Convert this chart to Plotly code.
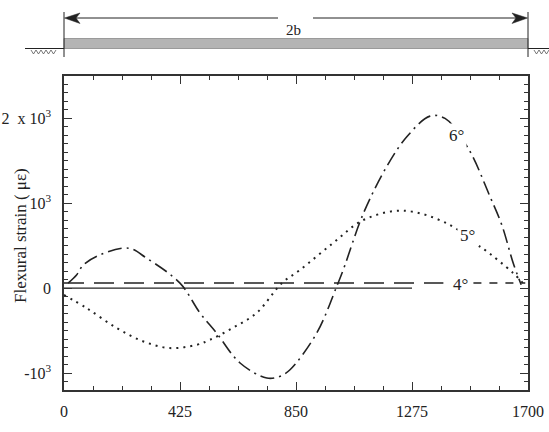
import plotly.graph_objects as go

# ---- data ----
x_solid = [0, 1275]
y_solid = [0, 0]

x_4a = [0, 1390]
y_4a = [60, 60]
x_4b = [1500, 1690]
y_4b = [60, 60]

x_5 = [0, 83, 193, 291, 388, 486, 535, 619, 706, 798, 865, 986, 1097, 1243, 1407, 1524, 1542, 1645, 1690]
y_5 = [-80, -235, -470, -628, -706, -667, -608, -467, -291, 59, 215, 532, 803, 913, 757, 489, 451, 180, 30]

x_6 = [15, 46, 71, 132, 236, 303, 425, 498, 559, 645, 743, 790, 828, 926, 999, 1023, 1097, 1182, 1256, 1341, 1396, 1481, 1561, 1604, 1646, 1675]
y_6 = [60, 156, 274, 392, 471, 353, 59, -291, -529, -882, -1059, -1040, -961, -529, 19, 215, 882, 1431, 1784, 2027, 2000, 1647, 1078, 745, 294, 40]

x_ticks = [0, 425, 850, 1275, 1700]
y_ticks = [-1000, 0, 1000, 2000]
y_ticktext = ["-10<sup>3</sup>", "0", "10<sup>3</sup>", "2  x 10<sup>3</sup>"]

labels = ["6°", "5°", "4°"]
label_x = [1437, 1478, 1451]
label_y = [1800, 615, 40]

FONT = "Liberation Serif"
INK = "#222222"

fig = go.Figure()
fig.add_trace(go.Scatter(x=x_solid, y=y_solid, mode="lines",
                         line=dict(color=INK, width=1.3), showlegend=False))
fig.add_trace(go.Scatter(x=x_4a, y=y_4a, mode="lines",
                         line=dict(color=INK, width=1.5, dash="20px,10px"), showlegend=False))
fig.add_trace(go.Scatter(x=x_4b, y=y_4b, mode="lines",
                         line=dict(color=INK, width=1.5, dash="8px,8px"), showlegend=False))
fig.add_trace(go.Scatter(x=x_5, y=y_5, mode="lines", line_shape="spline",
                         line=dict(color=INK, width=2, dash="2px,5px"), showlegend=False))
fig.add_trace(go.Scatter(x=x_6, y=y_6, mode="lines", line_shape="spline",
                         line=dict(color=INK, width=1.6, dash="14px,5px,2px,5px"), showlegend=False))

for t, xx, yy in zip(labels, label_x, label_y):
    fig.add_annotation(x=xx, y=yy, text=t, showarrow=False, bgcolor="white",
                       font=dict(family=FONT, size=17, color=INK), borderpad=2)

# ---- top diagram (pixel -> paper helpers) ----
L, R, T, B = 64, 528, 76, 390
def px(x):
    return (x - L) / (R - L)
def py(y):
    return (B - y) / (B - T)

shapes = []
shapes.append(dict(type="rect", xref="paper", yref="paper", x0=px(64), x1=px(528), y0=py(48.5), y1=py(38.5),
                   fillcolor="#b4b4b4", line=dict(color="#8a8a8a", width=0.8)))
for xv in (64, 528):
    shapes.append(dict(type="line", xref="paper", yref="paper", x0=px(xv), x1=px(xv), y0=py(12), y1=py(57),
                       line=dict(color=INK, width=1)))
shapes.append(dict(type="line", xref="paper", yref="paper", x0=px(25), x1=px(64), y0=py(48.5), y1=py(48.5),
                   line=dict(color=INK, width=1)))
shapes.append(dict(type="line", xref="paper", yref="paper", x0=px(528), x1=px(549), y0=py(48.5), y1=py(48.5),
                   line=dict(color=INK, width=1)))
def zig(x0, x1):
    pts = []
    x = x0
    up = True
    while x <= x1:
        pts.append((x, 50 if up else 54))
        up = not up
        x += 2.5
    return "M " + " L ".join(f"{px(a):.5f},{py(b):.5f}" for a, b in pts)
shapes.append(dict(type="path", xref="paper", yref="paper", path=zig(31, 57), line=dict(color="#555", width=0.8)))
shapes.append(dict(type="path", xref="paper", yref="paper", path=zig(534, 549), line=dict(color="#555", width=0.8)))
shapes.append(dict(type="line", xref="paper", yref="paper", x0=px(72), x1=px(278), y0=py(18), y1=py(18),
                   line=dict(color=INK, width=1)))
shapes.append(dict(type="line", xref="paper", yref="paper", x0=px(313), x1=px(520), y0=py(18), y1=py(18),
                   line=dict(color=INK, width=1)))
def head(tip, base, notch):
    return (f"M {px(tip):.5f},{py(18):.5f} L {px(base):.5f},{py(13):.5f} "
            f"L {px(notch):.5f},{py(18):.5f} L {px(base):.5f},{py(23.5):.5f} Z")
shapes.append(dict(type="path", xref="paper", yref="paper", path=head(64.5, 80, 76), fillcolor=INK, line=dict(color=INK, width=0.5)))
shapes.append(dict(type="path", xref="paper", yref="paper", path=head(527.5, 512, 516), fillcolor=INK, line=dict(color=INK, width=0.5)))
fig.add_annotation(xref="paper", yref="paper", x=px(293), y=py(20), text="2b", showarrow=False,
                   font=dict(family=FONT, size=15, color=INK))

# y axis title as rotated annotation
fig.add_annotation(xref="paper", yref="paper", x=px(20), y=py(236), text="Flexural strain ( με)",
                   xanchor="center", yanchor="middle",
                   textangle=-90, showarrow=False, font=dict(family=FONT, size=17, color=INK))

fig.update_layout(
    width=549, height=432,
    margin=dict(l=L, r=549 - R, t=T, b=432 - B, autoexpand=False),
    paper_bgcolor="white", plot_bgcolor="white",
    shapes=shapes,
    font=dict(family=FONT, size=15, color=INK),
)
fig.update_xaxes(range=[0, 1700], tickvals=x_ticks, ticktext=[str(v) for v in x_ticks],
                 ticks="inside", ticklen=8, tickwidth=1, tickcolor="#333",
                 minor=dict(dtick=106.25, tick0=0, ticks="inside", ticklen=4, tickcolor="#333"),
                 showline=True, linecolor="#333", linewidth=1.5, mirror="allticks",
                 showgrid=False, zeroline=False, ticklabelstandoff=6, automargin=False,
                 tickfont=dict(family=FONT, size=16, color=INK))
fig.update_yaxes(range=[-1200, 2500], tickvals=y_ticks, ticktext=y_ticktext,
                 ticks="inside", ticklen=8, tickwidth=1, tickcolor="#333",
                 minor=dict(dtick=100, tick0=0, ticks="inside", ticklen=4, tickcolor="#333"),
                 showline=True, linecolor="#333", linewidth=1.5, mirror="allticks",
                 showgrid=False, zeroline=False, ticklabelstandoff=8, automargin=False,
                 tickfont=dict(family=FONT, size=16, color=INK))

fig.write_html("out.html")
